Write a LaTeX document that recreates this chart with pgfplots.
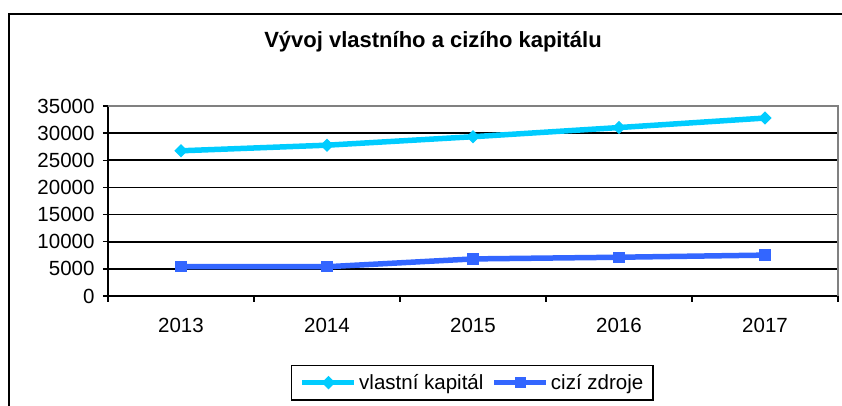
\documentclass[border=0pt]{standalone}
\usepackage{fontspec}
\setmainfont{Liberation Sans}
\usepackage{pgfplots}
\pgfplotsset{compat=1.18}
\definecolor{vkcol}{RGB}{0,204,255}
\definecolor{czcol}{RGB}{51,102,255}
\begin{document}
\begin{tikzpicture}[x=1pt,y=1pt]
\useasboundingbox (0,0) rectangle (842,406);
\draw[line width=2pt] (9,-20) -- (9,392) -- (880,392);
\node[font=\fontsize{22}{26}\selectfont\bfseries] at (433,364) {Vývoj vlastního a cizího kapitálu};
\begin{axis}[
  at={(108pt,110pt)}, anchor=south west,
  scale only axis, width=730pt, height=190pt,
  xmin=-0.5, xmax=4.5, ymin=0, ymax=35000,
  axis lines=left, axis line style={-, line width=1.5pt, black},
  xtick={0,1,2,3,4},
  xticklabels={2013,2014,2015,2016,2017},
  minor xtick={-0.5,0.5,1.5,2.5,3.5,4.5},
  major x tick style={draw=none},
  minor x tick style={line width=1.5pt, black},
  minor tick length=6pt,
  ytick={0,5000,...,35000},
  major tick length=5pt,
  y tick style={line width=1.5pt, black},
  tick align=outside,
  ymajorgrids, grid style={line width=1.6pt, black},
  scaled y ticks=false,
  /pgf/number format/fixed,
  /pgf/number format/1000 sep={},
  /pgf/number format/assume math mode=true,
  yticklabel style={font=\fontsize{20.5}{24}\selectfont, xshift=-5pt},
  xticklabel style={font=\fontsize{20.5}{24}\selectfont, yshift=-14pt},
  legend style={at={(0.4993,-0.456)}, anchor=center, draw=black, line width=1.5pt,
    font=\fontsize{20.5}{24}\selectfont, inner xsep=8pt, inner ysep=7pt,
    /tikz/every even column/.append style={column sep=6pt}},
  legend cell align=left,
  legend columns=2,
  legend image code/.code={\draw[mark repeat=2,mark phase=2] plot coordinates {(0pt,0pt)(26pt,0pt)(52pt,0pt)};},
  clip=false,
]
\addplot[color=vkcol, line width=5.5pt, mark=square*, mark size=4.2pt, mark options={rotate=45, solid, line width=1pt}]
  coordinates {(0,26750) (1,27780) (2,29340) (3,31030) (4,32780)};
\addlegendentry{vlastní kapitál}
\addplot[color=czcol, line width=5.5pt, mark=square*, mark size=5.2pt, mark options={solid, line width=1pt}]
  coordinates {(0,5390) (1,5390) (2,6830) (3,7140) (4,7530)};
\addlegendentry{cizí zdroje}
\draw[gray, line width=1.5pt] (rel axis cs:0,1) -- (rel axis cs:1,1) -- (rel axis cs:1,0);
\end{axis}
\end{tikzpicture}
\end{document}
